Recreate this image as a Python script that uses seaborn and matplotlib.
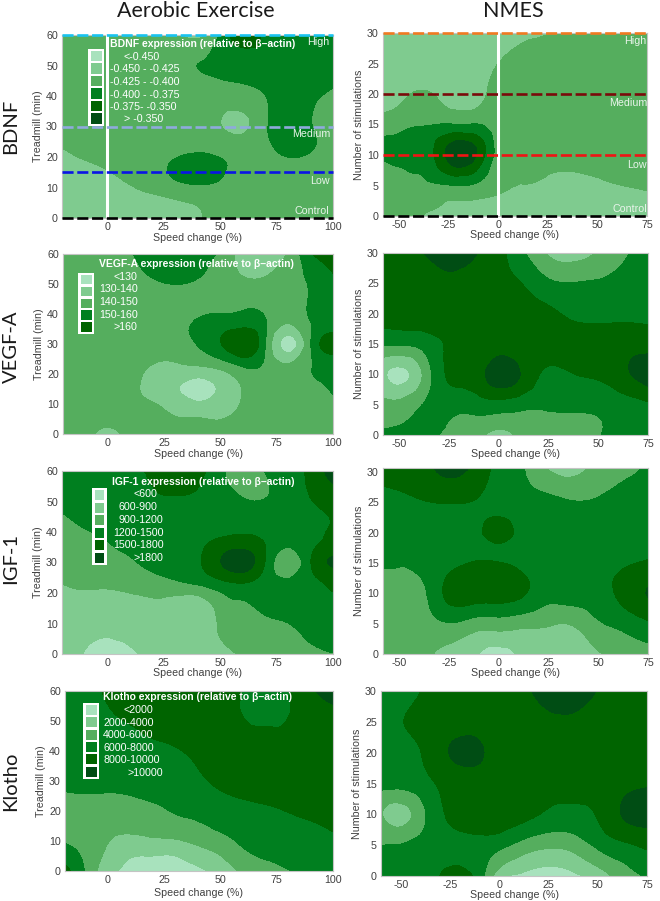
import matplotlib
matplotlib.use("Agg")
import matplotlib.pyplot as plt
import matplotlib.tri as mtri
from matplotlib.patches import Rectangle
import numpy as np
import seaborn as sns

# contour values are read off the picture, in "band" units:
# 2.5 means the middle of the third colour band
band_levels = [0, 1, 2, 3, 4, 5, 6]
band_colors = ["#A8E2BD", "#7FCB8F", "#55AE5E", "#007F1F", "#006400", "#004D14"]

aerobic_x = [-20, -10, 0, 10, 20, 30, 40, 50, 60, 70, 80, 90, 100]
aerobic_y = [0, 7.5, 15, 22.5, 30, 37.5, 45, 52.5, 60]
nmes_x = [-60, -50, -37.5, -25, -12.5, 0, 12.5, 25, 37.5, 50, 62.5, 75]
nmes_y = [0, 5, 10, 15, 20, 25, 30]
nmes_y_igf = [0, 5, 10, 15, 17.5, 20, 22.5, 25, 30.66]

bdnf_aerobic = [
    [1.5, 1.4, 1.4, 1.4, 1.4, 1.5, 1.9, 2.3, 2.5, 2.5, 2.5, 2.5, 2.5],
    [1.6, 1.6, 1.7, 1.8, 1.95, 2.2, 2.4, 2.5, 2.5, 2.5, 2.5, 2.5, 2.5],
    [1.7, 1.8, 1.97, 2.2, 2.6, 3.2, 3.5, 3.15, 2.7, 2.6, 2.6, 2.6, 2.6],
    [1.97, 2.2, 2.3, 2.4, 2.5, 2.7, 2.85, 2.7, 2.6, 2.8, 3.2, 3.05, 2.7],
    [2.4, 2.5, 2.5, 2.5, 2.5, 2.5, 2.4, 2.05, 1.8, 2.85, 3.4, 3.05, 2.7],
    [2.5, 2.5, 2.5, 2.5, 2.5, 2.5, 2.5, 2.3, 2.3, 2.9, 3.4, 3.1, 2.75],
    [2.5, 2.5, 2.5, 2.5, 2.5, 2.6, 2.8, 2.95, 3.1, 3.3, 3.5, 3.4, 3.15],
    [2.5, 2.5, 2.5, 2.5, 2.5, 2.7, 2.9, 3.3, 3.7, 3.6, 3.5, 3.4, 3.4],
    [2.5, 2.5, 2.5, 2.5, 2.5, 2.2, 1.7, 3.1, 4.6, 3.7, 3.4, 3.3, 3.3],
]
vegf_aerobic = [
    [2.5, 2.4, 1.7, 2.4, 2.5, 2.5, 2.5, 2.5, 2.5, 2.5, 2.5, 2.5, 2.5],
    [2.5, 2.5, 2.35, 2.45, 2.35, 1.8, 1.65, 1.7, 2.2, 2.5, 2.5, 2.5, 2.6],
    [2.5, 2.5, 2.5, 2.3, 1.6, 1.1, 0.6, 1.2, 2.05, 2.5, 2.5, 2.7, 3.1],
    [2.5, 2.5, 2.5, 2.5, 1.9, 1.75, 1.95, 2.3, 3.05, 2.8, 2.2, 2.95, 3.4],
    [2.5, 2.5, 2.5, 2.5, 2.5, 2.6, 3.05, 3.95, 4.9, 3.0, 0.6, 2.95, 4.4],
    [2.5, 2.5, 2.5, 2.5, 2.5, 2.5, 3.1, 3.3, 3.5, 3.05, 2.15, 3.0, 3.5],
    [2.5, 2.5, 2.5, 2.5, 2.5, 2.6, 2.6, 2.7, 2.7, 2.6, 2.6, 3.05, 3.3],
    [2.5, 2.5, 2.5, 2.7, 3.05, 3.2, 3.05, 2.5, 2.0, 2.0, 2.5, 3.2, 3.9],
    [2.5, 2.5, 2.6, 2.95, 3.3, 3.5, 3.3, 2.85, 1.6, 1.6, 2.1, 3.9, 4.5],
]
igf_aerobic = [
    [1.4, 0.95, 0.5, 0.8, 1.3, 1.4, 1.4, 1.75, 2.08, 2.4, 2.6, 2.8, 2.98],
    [1.6, 1.3, 1.15, 1.3, 1.4, 1.5, 1.6, 2.05, 2.4, 2.6, 2.8, 3.25, 3.5],
    [1.7, 1.65, 1.6, 1.65, 1.7, 1.4, 1.2, 2.35, 2.8, 3.2, 3.45, 3.6, 3.8],
    [1.97, 2.1, 2.1, 2.25, 2.5, 2.7, 2.95, 3.5, 3.8, 3.5, 3.4, 3.7, 4.15],
    [2.4, 2.55, 2.7, 2.9, 3.2, 3.4, 3.85, 4.95, 5.5, 3.95, 2.3, 3.95, 5.1],
    [2.65, 2.85, 3.02, 3.2, 3.3, 3.5, 3.7, 4.1, 4.3, 3.9, 3.4, 3.7, 4.3],
    [2.95, 3.15, 3.3, 3.4, 3.5, 3.5, 3.5, 3.4, 3.4, 3.4, 3.5, 3.75, 4.05],
    [3.2, 3.3, 3.4, 3.5, 3.9, 4.05, 3.9, 3.3, 2.95, 2.95, 3.4, 4.05, 4.6],
    [3.4, 3.4, 3.5, 3.75, 4.15, 4.5, 4.3, 3.3, 2.4, 3.05, 3.6, 4.2, 5.6],
]
klotho_aerobic = [
    [4.5, 2.95, 1.3, 0.85, 0.5, 0.5, 0.8, 1.4, 2.2, 2.6, 2.95, 3.3, 3.6],
    [3.3, 2.7, 1.9, 1.3, 1.35, 1.4, 1.85, 2.3, 2.97, 3.3, 3.5, 3.7, 3.85],
    [2.5, 2.5, 2.35, 2.35, 2.55, 2.7, 2.85, 3.2, 3.5, 3.7, 3.85, 3.95, 4.05],
    [2.75, 2.8, 2.8, 2.85, 2.98, 3.15, 3.4, 3.7, 3.9, 4.02, 4.15, 4.25, 4.35],
    [3.15, 3.2, 3.2, 3.3, 3.5, 3.7, 3.85, 4.2, 4.4, 4.5, 4.6, 4.6, 4.6],
    [3.3, 3.4, 3.5, 3.6, 3.7, 3.85, 4.1, 4.4, 4.5, 4.5, 4.5, 4.6, 4.7],
    [3.4, 3.5, 3.6, 3.8, 4.05, 4.2, 4.4, 4.4, 4.2, 4.2, 4.2, 4.5, 4.7],
    [3.5, 3.6, 3.9, 4.2, 4.4, 4.5, 4.5, 4.3, 3.97, 3.6, 3.95, 4.4, 4.7],
    [3.6, 3.75, 4.1, 4.4, 4.6, 4.6, 4.6, 4.3, 3.95, 2.9, 3.95, 4.8, 5.7],
]
bdnf_nmes = [
    [2.5, 2.3, 1.95, 1.6, 1.5, 1.45, 1.5, 1.5, 1.45, 1.5, 1.55, 1.6],
    [2.5, 2.6, 2.85, 2.95, 2.9, 2.3, 1.97, 1.76, 1.6, 1.82, 2.0, 2.1],
    [3.05, 3.2, 3.3, 5.3, 5.3, 2.6, 2.6, 2.5, 2.5, 2.5, 2.5, 2.5],
    [2.5, 2.7, 2.95, 3.05, 3.05, 2.6, 2.5, 2.5, 2.5, 2.5, 2.5, 2.5],
    [1.35, 1.7, 2.1, 1.55, 1.4, 2.5, 2.5, 2.5, 2.5, 2.5, 2.5, 2.5],
    [1.6, 1.6, 1.6, 1.6, 1.6, 2.0, 2.3, 2.5, 2.5, 2.5, 2.5, 2.5],
    [1.6, 1.6, 1.6, 1.6, 1.6, 1.7, 1.85, 1.97, 2.4, 2.5, 2.5, 2.5],
]
vegf_nmes = [
    [3.2, 3.2, 3.2, 2.8, 2.4, 1.6, 2.3, 2.4, 2.6, 2.95, 3.3, 3.6],
    [2.2, 2.3, 3.05, 3.3, 3.4, 3.6, 3.3, 3.13, 3.17, 3.2, 3.5, 3.85],
    [1.6, 0.7, 2.2, 4.2, 4.6, 5.5, 4.8, 3.8, 3.98, 4.2, 4.75, 5.5],
    [3.15, 3.1, 3.4, 4.1, 4.4, 4.5, 4.5, 4.5, 4.5, 4.6, 4.6, 4.5],
    [4.6, 4.5, 4.6, 4.4, 4.5, 4.5, 4.4, 4.2, 3.8, 3.7, 3.8, 3.9],
    [4.4, 4.5, 4.6, 4.8, 4.6, 4.3, 3.95, 3.2, 3.03, 3.1, 3.3, 3.5],
    [4.4, 4.5, 5.0, 5.5, 5.1, 4.3, 3.1, 1.85, 1.4, 2.1, 2.85, 3.4],
]
igf_nmes = [
    [2.5, 2.5, 2.2, 1.6, 1.2, 0.5, 1.3, 1.5, 1.6, 1.9, 2.5, 2.6],
    [2.5, 2.5, 2.6, 2.95, 2.55, 2.5, 2.3, 2.1, 2.1, 2.85, 3.3, 3.85],
    [2.5, 2.6, 2.85, 4.3, 4.5, 4.5, 4.1, 3.4, 3.5, 3.6, 4.35, 5.05],
    [3.05, 3.05, 3.3, 3.7, 4.05, 4.05, 3.7, 3.5, 3.5, 3.5, 3.85, 4.1],
    [3.25, 3.25, 3.35, 3.6, 3.75, 3.8, 3.6, 3.4, 3.4, 3.4, 3.6, 3.8],
    [3.4, 3.4, 3.4, 3.5, 3.6, 4.5, 3.5, 3.3, 3.3, 3.3, 3.4, 3.5],
    [3.5, 3.5, 3.5, 3.6, 3.7, 4.05, 3.5, 3.4, 3.3, 3.3, 3.4, 3.5],
    [3.7, 3.75, 3.95, 4.05, 3.97, 3.6, 3.3, 3.25, 3.05, 3.1, 3.3, 3.5],
    [4.3, 4.4, 4.6, 5.5, 4.8, 3.7, 3.05, 1.9, 1.5, 2.5, 2.75, 3.1],
]
klotho_nmes = [
    [3.4, 3.4, 3.5, 4.3, 3.9, 1.4, 0.8, 0.5, 0.8, 1.4, 2.5, 3.1],
    [2.97, 3.05, 3.4, 3.6, 3.6, 3.3, 2.6, 2.2, 2.4, 3.2, 3.8, 4.2],
    [2.1, 1.6, 2.95, 4.2, 4.6, 4.6, 4.3, 3.85, 3.75, 4.1, 5.05, 5.3],
    [3.3, 3.3, 3.75, 4.3, 4.5, 4.5, 4.4, 4.2, 4.2, 4.3, 4.7, 4.9],
    [3.3, 3.6, 4.15, 5.05, 5.3, 4.5, 4.5, 4.5, 4.5, 4.5, 4.5, 4.5],
    [3.5, 3.95, 4.3, 4.5, 4.5, 4.6, 4.7, 4.8, 4.85, 4.6, 4.5, 4.5],
    [3.4, 3.6, 4.1, 4.5, 4.5, 4.6, 4.8, 5.5, 5.6, 4.95, 4.5, 4.5],
]

bdnf_legend = ["<-0.450", "-0.450 - -0.425", "-0.425 - -0.400", "-0.400 - -0.375", "-0.375- -0.350", "> -0.350"]
vegf_legend = ["<130", "130-140", "140-150", "150-160", ">160"]
igf_legend = ["<600", "600-900", "900-1200", "1200-1500", "1500-1800", ">1800"]
klotho_legend = ["<2000", "2000-4000", "4000-6000", "6000-8000", "8000-10000", ">10000"]

aerobic_xticks = [0, 25, 50, 75, 100]
aerobic_yticks = [0, 10, 20, 30, 40, 50, 60]
nmes_xticks = [-50, -25, 0, 25, 50, 75]
nmes_yticks = [0, 5, 10, 15, 20, 25, 30]

W, H = 660, 901
gray = "#404040"

sns.set_style("white")
plt.rcParams["font.family"] = ["Liberation Sans", "DejaVu Sans"]
plt.rcParams["axes.unicode_minus"] = False
fig = plt.figure(figsize=(W / 100, H / 100), dpi=100)


def make_axes(left, top, right, bottom):
    return fig.add_axes([left / W, 1 - bottom / H, (right - left) / W, (bottom - top) / H])


def contour_panel(box, xs, ys, values, xlim, ylim, xticks, yticks, ylabel, xpad):
    ax = make_axes(*box)
    # the original is a smoothed contour map, so let matplotlib refine the mesh
    gx, gy = np.meshgrid(xs, ys)
    triang = mtri.Triangulation(gx.ravel(), gy.ravel())
    fine_tri, fine_z = mtri.UniformTriRefiner(triang).refine_field(np.ravel(values), subdiv=3)
    ax.tricontourf(fine_tri, np.clip(fine_z, 0.01, 5.99), levels=band_levels, colors=band_colors)
    ax.set_xlim(*xlim)
    ax.set_ylim(*ylim)
    ax.set_xticks(xticks)
    ax.set_yticks(yticks)
    ax.tick_params(length=0, labelsize=7.7, labelcolor=gray, pad=3)
    ax.set_xlabel("Speed change (%)", fontsize=7.7, color=gray, labelpad=xpad)
    ax.set_ylabel(ylabel, fontsize=7.7, color=gray, labelpad=2)
    for side in ax.spines.values():
        side.set_color("#C4C4C4")
        side.set_linewidth(0.8)
    return ax


def pixel_rect(x0, y0, x1, y1, color):
    fig.add_artist(Rectangle((x0 / W, 1 - y1 / H), (x1 - x0) / W, (y1 - y0) / H,
                             transform=fig.transFigure, facecolor=color, edgecolor="none", zorder=5))


def pixel_text(x, y, s, **kw):
    kw.setdefault("color", "white")
    kw.setdefault("fontsize", 7.7)
    kw.setdefault("va", "center")
    kw.setdefault("zorder", 6)
    fig.text(x / W, 1 - y / H, s, **kw)


def legend_block(box, title, title_x, title_y, labels, label_x, label_ys):
    x0, y0, x1, y1 = box
    pixel_rect(x0, y0, x1, y1, "white")
    n = len(labels)
    step = (y1 - y0 - 2) / n
    for i in range(n):
        pixel_rect(x0 + 2.5, y0 + 2 + i * step, x1 - 2.5, y0 + (i + 1) * step - 0.5, band_colors[i])
        pixel_text(label_x[i], label_ys[i], labels[i])
    pixel_text(title_x, title_y, title, fontweight="bold", fontsize=7.5)


def guide_lines(ax, lines):
    for y_val, color in lines:
        ax.axhline(y_val, color=color, lw=1.9, dashes=(4.2, 1.4), clip_on=False, zorder=4)
    ax.axvline(0, color="white", lw=2.2, zorder=3)


ax1 = contour_panel((62, 35, 333, 218), aerobic_x, aerobic_y, bdnf_aerobic, (-20, 100), (0, 60),
                    aerobic_xticks, aerobic_yticks, "Treadmill (min)", 0.6)
ax2 = contour_panel((383, 33, 647, 216), nmes_x, nmes_y, bdnf_nmes, (-58, 75), (0, 30),
                    nmes_xticks, nmes_yticks, "Number of stimulations", 0.2)
ax3 = contour_panel((63, 254, 333, 434), aerobic_x, aerobic_y, vegf_aerobic, (-20, 100), (0, 60),
                    aerobic_xticks, aerobic_yticks, "Treadmill (min)", 0.6)
ax4 = contour_panel((383, 253, 648, 435), nmes_x, nmes_y, vegf_nmes, (-58, 75), (0, 30),
                    nmes_xticks, nmes_yticks, "Number of stimulations", 0.2)
ax5 = contour_panel((62, 471, 333, 654), aerobic_x, aerobic_y, igf_aerobic, (-20, 100), (0, 60),
                    aerobic_xticks, aerobic_yticks, "Treadmill (min)", 0.2)
ax6 = contour_panel((383, 468, 648, 654), nmes_x, nmes_y_igf, igf_nmes, (-58, 75), (0, 30.66),
                    nmes_xticks, nmes_yticks, "Number of stimulations", 0.2)
ax7 = contour_panel((65, 691, 333, 871), aerobic_x, aerobic_y, klotho_aerobic, (-19, 100), (0, 60),
                    aerobic_xticks, aerobic_yticks, "Treadmill (min)", 2)
ax8 = contour_panel((381, 691, 647, 876), nmes_x, nmes_y, klotho_nmes, (-60, 75), (0, 30),
                    nmes_xticks, nmes_yticks, "Number of stimulations", 0.2)

guide_lines(ax1, [(60, "#19C3F0"), (30, "#8FAADC"), (15, "#0A14E6"), (0, "#000000")])
guide_lines(ax2, [(30, "#F07A22"), (20, "#7A0A0A"), (10, "#F01414"), (0, "#000000")])

for label, x_right, y_mid in [("High", 329, 42), ("Medium", 330, 134), ("Low", 330, 181), ("Control", 329, 211),
                              ("High", 646, 41), ("Medium", 647, 103), ("Low", 647, 165), ("Control", 647, 209)]:
    pixel_text(x_right, y_mid, label, ha="right", color="#E8F4EA")

legend_block((88, 49, 104, 126), "BDNF expression (relative to β–actin)", 110, 44, bdnf_legend,
             [124, 110, 110, 110, 110, 124], [57, 69, 82, 95, 107, 119])
legend_block((78, 273, 94, 334), "VEGF-A expression (relative to β–actin)", 99, 264, vegf_legend,
             [113, 99, 99, 99, 113], [277, 289, 302, 315, 327])
legend_block((92, 488, 107, 565), "IGF-1 expression (relative to β–actin)", 112, 482, igf_legend,
             [133, 118, 118, 113, 113, 133], [494, 507, 520, 533, 545, 558])
legend_block((83, 703, 99, 779), "Klotho expression (relative to β–actin)", 103, 697, klotho_legend,
             [124, 103, 103, 103, 103, 127], [710, 723, 735, 748, 760, 773])

for title, x_mid in [("Aerobic Exercise", 196), ("NMES", 513)]:
    pixel_text(x_mid, 11, title, color="#1A1A1A", fontsize=15.5, ha="center", family="Lato")
for name, y_mid in [("BDNF", 126), ("VEGF-A", 347), ("IGF-1", 559), ("Klotho", 781)]:
    pixel_text(11, y_mid, name, color="#1A1A1A", fontsize=14.5, ha="center", va="center", rotation=90,
               family="Lato")

fig.savefig("out.png", dpi=100)
